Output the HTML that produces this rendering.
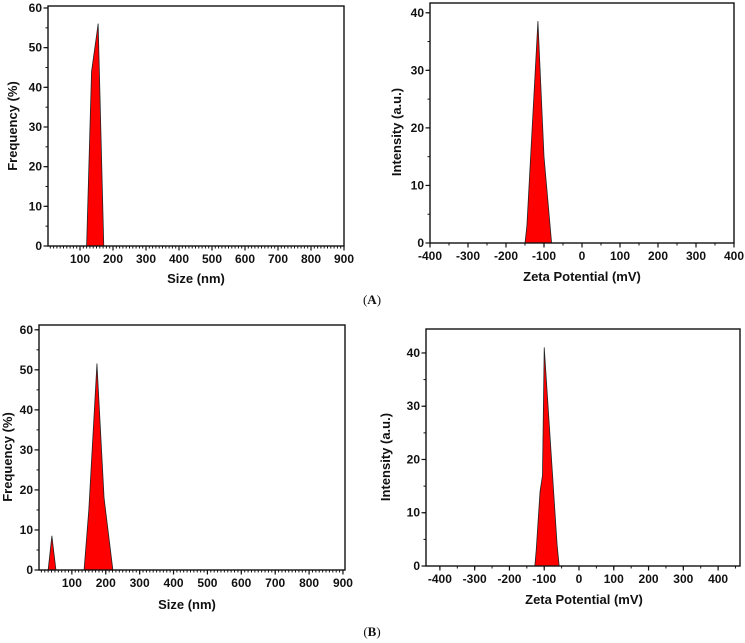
<!DOCTYPE html>
<html><head><meta charset="utf-8">
<style>
html,body{margin:0;padding:0;background:#fff;}
svg{display:block;}
text{font-family:"Liberation Sans",Arial,sans-serif;font-weight:bold;fill:#111;}
.cap{font-family:"Liberation Serif",serif;font-weight:normal;font-size:13px;}
</style></head>
<body>
<svg id="fig" width="745" height="643" viewBox="0 0 745 643" xmlns="http://www.w3.org/2000/svg">
<text class="cap" x="372" y="304" text-anchor="middle">(<tspan font-weight="bold">A</tspan>)</text>
<text class="cap" x="372" y="636" text-anchor="middle">(<tspan font-weight="bold">B</tspan>)</text>
</svg>
<script>
// Panel A1: size distribution
const a1X = [120, 135, 155, 172];
const a1Y = [0, 44, 56, 0];
const a1XTicks = [100,200,300,400,500,600,700,800,900];
const a1YTicks = [0,10,20,30,40,50,60];
// Panel A2: zeta potential
const a2X = [-150, -145, -116, -100, -80];
const a2Y = [0, 3, 38.5, 15, 0];
const a2XTicks = [-400,-300,-200,-100,0,100,200,300,400];
const a2YTicks = [0,10,20,30,40];
// Panel B1: size distribution
const b1X = [30, 41, 53, 136, 150, 174, 195, 221];
const b1Y = [0, 8.5, 0, 0, 15, 51.5, 18, 0];
const b1XTicks = [100,200,300,400,500,600,700,800,900];
const b1YTicks = [0,10,20,30,40,50,60];
// Panel B2: zeta potential
const b2X = [-127, -123, -112, -105, -100, -63, -57];
const b2Y = [0, 3, 14, 17, 41, 4, 0];
const b2XTicks = [-400,-300,-200,-100,0,100,200,300,400];
const b2YTicks = [0,10,20,30,40];

const NS = "http://www.w3.org/2000/svg";
const svg = document.getElementById('fig');
function mk(tag, attrs, parent){
  const e = document.createElementNS(NS, tag);
  for (const k in attrs) e.setAttribute(k, attrs[k]);
  (parent||svg).appendChild(e);
  return e;
}
function panel(p){
  const g = mk('g', {});
  
  
  const sx = v => p.L + (v - p.x0) / (p.x1 - p.x0) * (p.R - p.L);
  const sy = v => p.B - (v - p.y0) / (p.y1 - p.y0) * (p.B - p.T);
  let d = 'M' + sx(p.xs[0]) + ',' + sy(0);
  for (let i = 0; i < p.xs.length; i++) d += ' L' + sx(p.xs[i]) + ',' + sy(p.ys[i]);
  d += ' L' + sx(p.xs[p.xs.length-1]) + ',' + sy(0) + ' Z';
  const area = mk('path', {d: d, fill: '#ff0000', stroke: '#222', 'stroke-width': 0.8, 'stroke-linejoin':'round'}, g);
  
  
  const fr = mk('rect', {x: p.L, y: p.T, width: p.R - p.L, height: p.B - p.T, fill: 'none', stroke: '#111', 'stroke-width': 1.4}, g);
  
  
  for (let v = Math.ceil(p.x0 / p.xm) * p.xm; v <= p.x1 + 1e-9; v += p.xm) {
    mk('line', {x1: sx(v), x2: sx(v), y1: p.B, y2: p.B + 2.5, stroke: '#111', 'stroke-width': 1}, g);
  }
  p.xt.forEach(v => {
    mk('line', {x1: sx(v), x2: sx(v), y1: p.B, y2: p.B + 4.5, stroke: '#111', 'stroke-width': 1.2}, g);
    const t = mk('text', {x: sx(v), y: p.B + 17, 'text-anchor': 'middle', 'font-size': 12}, g);
    t.textContent = v;
    
    
  });
  for (let v = p.y0; v <= p.y1 + 1e-9; v += p.ym) {
    mk('line', {x1: p.L - 2.5, x2: p.L, y1: sy(v), y2: sy(v), stroke: '#111', 'stroke-width': 1}, g);
  }
  p.yt.forEach(v => {
    mk('line', {x1: p.L - 4.5, x2: p.L, y1: sy(v), y2: sy(v), stroke: '#111', 'stroke-width': 1.2}, g);
    const t = mk('text', {x: p.L - 6, y: sy(v) + 4, 'text-anchor': 'end', 'font-size': 12}, g);
    t.textContent = v;
    
    
  });
  const xt = mk('text', {x: p.xtx, y: p.xty, 'text-anchor': 'middle', 'font-size': 13}, g);
  xt.textContent = p.xlabel;
  
  
  const yt = mk('text', {x: 0, y: 0, 'text-anchor': 'middle', 'font-size': 13, transform: 'translate(' + p.ytx + ',' + p.yty + ') rotate(-90)'}, g);
  yt.textContent = p.ylabel;
  
  
}
panel({name:'chart-a-size', xs:a1X, ys:a1Y, xt:a1XTicks, yt:a1YTicks, L:48, R:344, T:6, B:246, x0:3, x1:900, y0:0, y1:60.5, xm:10, ym:5,
  xlabel:'Size (nm)', ylabel:'Frequency (%)', xtx:196, xty:283, ytx:17, yty:126});
panel({name:'chart-a-zeta', xs:a2X, ys:a2Y, xt:a2XTicks, yt:a2YTicks, L:430, R:734, T:3, B:243, x0:-400, x1:400, y0:0, y1:41.7, xm:50, ym:5,
  xlabel:'Zeta Potential (mV)', ylabel:'Intensity (a.u.)', xtx:582, xty:281, ytx:401, yty:132});
panel({name:'chart-b-size', xs:b1X, ys:b1Y, xt:b1XTicks, yt:b1YTicks, L:39, R:345, T:325, B:570, x0:3, x1:906, y0:0, y1:61.2, xm:10, ym:5,
  xlabel:'Size (nm)', ylabel:'Frequency (%)', xtx:187, xty:609, ytx:12, yty:457});
panel({name:'chart-b-zeta', xs:b2X, ys:b2Y, xt:b2XTicks, yt:b2YTicks, L:426, R:740, T:329, B:566, x0:-440, x1:463, y0:0, y1:44.5, xm:50, ym:5,
  xlabel:'Zeta Potential (mV)', ylabel:'Intensity (a.u.)', xtx:584, xty:604, ytx:390, yty:457});
</script>
</body></html>
